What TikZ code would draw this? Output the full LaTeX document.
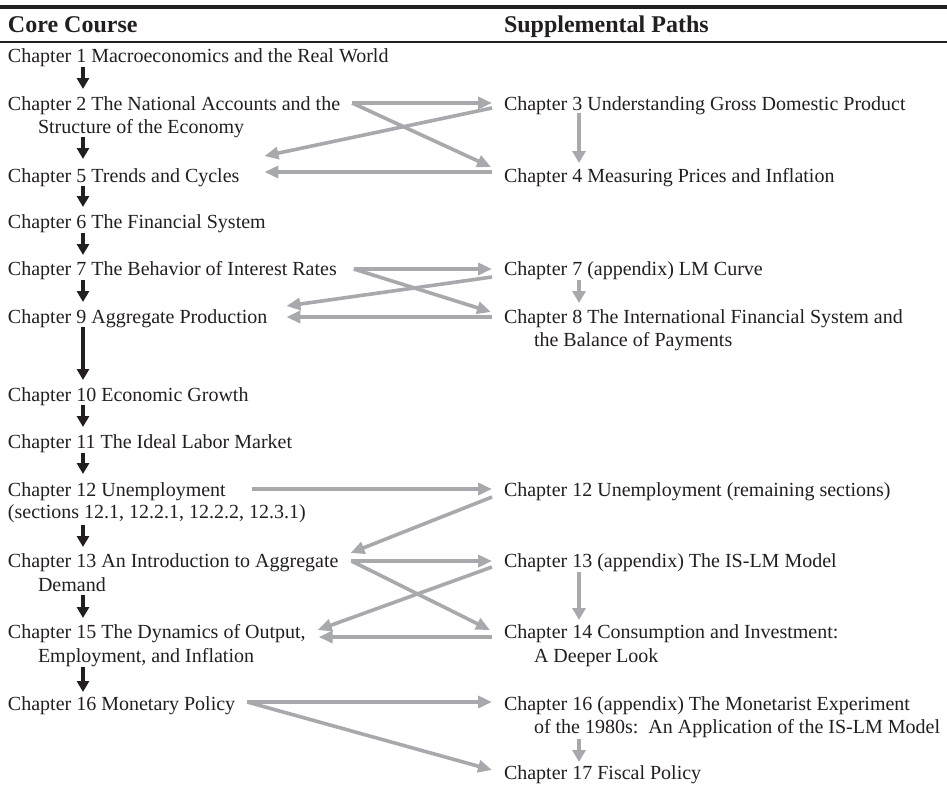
\documentclass[tikz,border=0pt]{standalone}
\usepackage{fontspec}
\setmainfont{Liberation Serif}
\usetikzlibrary{arrows.meta}
\definecolor{ink}{HTML}{231F20}
\definecolor{pathgray}{HTML}{A7A9AC}
\begin{document}
\begin{tikzpicture}[x=1pt,y=-1pt,
  chap/.style={anchor=base west,inner sep=0pt,outer sep=0pt,text=ink,font=\fontsize{20}{23}\selectfont},
  head/.style={anchor=base west,inner sep=0pt,outer sep=0pt,text=ink,font=\fontsize{24}{28}\selectfont\bfseries},
  core/.style={draw=ink,line width=4pt,-{Triangle[length=11pt,width=12pt]}},
  supp/.style={draw=pathgray,line width=3.6pt,-{Triangle[length=14pt,width=12pt]}},
  suppv/.style={draw=pathgray,line width=3.6pt,-{Triangle[length=12pt,width=13pt]}},
]
\useasboundingbox (0,0) rectangle (947,807);
\fill[white] (0,0) rectangle (947,807);
% rules
\draw[ink,line width=4pt] (0,7) -- (947,7);
\draw[ink,line width=1.5pt] (0,42) -- (947,42);
% headers
\node[head] (hcore) at (8,32) {Core Course};
\node[head] (hsupp) at (504,32) {Supplemental Paths};
% core course
\node[chap] (c1) at (8,62) {Chapter 1 Macroeconomics and the Real World};
\node[chap] (c2) at (8,110) {Chapter 2 The National Accounts and the};
\node[chap] (c2b) at (38,133) {Structure of the Economy};
\node[chap] (c5) at (8,182) {Chapter 5 Trends and Cycles};
\node[chap] (c6) at (8,228) {Chapter 6 The Financial System};
\node[chap] (c7) at (8,275) {Chapter 7 The Behavior of Interest Rates};
\node[chap] (c9) at (8,323) {Chapter 9 Aggregate Production};
\node[chap] (c10) at (8,401) {Chapter 10 Economic Growth};
\node[chap] (c11) at (8,448) {Chapter 11 The Ideal Labor Market};
\node[chap] (c12) at (8,496) {Chapter 12 Unemployment};
\node[chap] (c12b) at (8,518) {(sections 12.1, 12.2.1, 12.2.2, 12.3.1)};
\node[chap] (c13) at (8,567) {Chapter 13 An Introduction to Aggregate};
\node[chap] (c13b) at (38,591) {Demand};
\node[chap] (c15) at (8,638) {Chapter 15 The Dynamics of Output,};
\node[chap] (c15b) at (38,662) {Employment, and Inflation};
\node[chap] (c16) at (8,710) {Chapter 16 Monetary Policy};
% supplemental
\node[chap] (s3) at (504,110) {Chapter 3 Understanding Gross Domestic Product};
\node[chap] (s4) at (504,182) {Chapter 4 Measuring Prices and Inflation};
\node[chap] (s7) at (504,275) {Chapter 7 (appendix) LM Curve};
\node[chap] (s8) at (504,323) {Chapter 8 The International Financial System and};
\node[chap] (s8b) at (534,346) {the Balance of Payments};
\node[chap] (s12) at (504,496) {Chapter 12 Unemployment (remaining sections)};
\node[chap] (s13) at (504,567) {Chapter 13 (appendix) The IS-LM Model};
\node[chap] (s14) at (504,638) {Chapter 14 Consumption and Investment:};
\node[chap] (s14b) at (534,662) {A Deeper Look};
\node[chap] (s16) at (504,710) {Chapter 16 (appendix) The Monetarist Experiment};
\node[chap] (s16b) at (534,733) {of the 1980s:\ \ An Application of the IS-LM Model};
\node[chap] (s17) at (504,779) {Chapter 17 Fiscal Policy};
% core arrows
\draw[core] ([xshift=75pt,yshift=-5pt]c1.base west) -- ([xshift=75pt,yshift=21pt]c2.base west);
\draw[core] ([xshift=75pt,yshift=-27pt]c2.base west) -- ([xshift=75pt,yshift=23pt]c5.base west);
\draw[core] ([xshift=75pt,yshift=-4pt]c5.base west) -- ([xshift=75pt,yshift=21pt]c6.base west);
\draw[core] ([xshift=75pt,yshift=-5pt]c6.base west) -- ([xshift=75pt,yshift=20pt]c7.base west);
\draw[core] ([xshift=75pt,yshift=-5pt]c7.base west) -- ([xshift=75pt,yshift=21pt]c9.base west);
\draw[core] ([xshift=75pt,yshift=-4pt]c9.base west) -- ([xshift=75pt,yshift=21pt]c10.base west);
\draw[core] ([xshift=75pt,yshift=-4pt]c10.base west) -- ([xshift=75pt,yshift=21pt]c11.base west);
\draw[core] ([xshift=75pt,yshift=-5pt]c11.base west) -- ([xshift=75pt,yshift=22pt]c12.base west);
\draw[core] ([xshift=75pt,yshift=-29pt]c12.base west) -- ([xshift=75pt,yshift=20pt]c13.base west);
\draw[core] ([xshift=75pt,yshift=-28pt]c13.base west) -- ([xshift=75pt,yshift=20pt]c15.base west);
\draw[core] ([xshift=75pt,yshift=-29pt]c15.base west) -- ([xshift=75pt,yshift=18pt]c16.base west);
% supplemental arrows
\draw[supp] ([xshift=12pt,yshift=7pt]c2.base east) -- ([xshift=-12pt,yshift=7pt]s3.base west);
\draw[supp] ([xshift=12pt,yshift=7pt]c2.base east) -- ([xshift=-13pt,yshift=15pt]s4.base west);
\draw[supp] ([xshift=-12pt,yshift=2pt]s3.base west) -- ([xshift=25pt,yshift=26pt]c5.base east);
\draw[supp] ([xshift=-12pt,yshift=10pt]s4.base west) -- ([xshift=25pt,yshift=10pt]c5.base east);
\draw[suppv] ([xshift=75pt,yshift=-3pt]s3.base west) -- ([xshift=75pt,yshift=19pt]s4.base west);

\draw[supp] ([xshift=17pt,yshift=6pt]c7.base east) -- ([xshift=-12pt,yshift=6pt]s7.base west);
\draw[supp] ([xshift=17pt,yshift=6pt]c7.base east) -- ([xshift=-13pt,yshift=11pt]s8.base west);
\draw[supp] ([xshift=-12pt,yshift=-2pt]s7.base west) -- ([xshift=19pt,yshift=17pt]c9.base east);
\draw[supp] ([xshift=-12pt,yshift=6pt]s8.base west) -- ([xshift=19pt,yshift=6pt]c9.base east);
\draw[suppv] ([xshift=75pt,yshift=-5pt]s7.base west) -- ([xshift=75pt,yshift=20pt]s8.base west);

\draw[supp] ([xshift=26pt,yshift=7pt]c12.base east) -- ([xshift=-12pt,yshift=7pt]s12.base west);
\draw[supp] ([xshift=-12pt,yshift=-1pt]s12.base west) -- ([xshift=12pt,yshift=14pt]c13.base east);

\draw[supp] ([xshift=13pt,yshift=6pt]c13.base east) -- ([xshift=-12pt,yshift=6pt]s13.base west);
\draw[supp] ([xshift=13pt,yshift=6pt]c13.base east) -- ([xshift=-14pt,yshift=8pt]s14.base west);
\draw[supp] ([xshift=-12pt,yshift=0pt]s13.base west) -- ([xshift=12pt,yshift=8pt]c15.base east);
\draw[supp] ([xshift=-12pt,yshift=1pt]s14.base west) -- ([xshift=13pt,yshift=1pt]c15.base east);
\draw[suppv] ([xshift=75pt,yshift=-5pt]s13.base west) -- ([xshift=75pt,yshift=18pt]s14.base west);

\draw[supp] ([xshift=12pt,yshift=8pt]c16.base east) -- ([xshift=-12pt,yshift=8pt]s16.base west);
\draw[supp] ([xshift=12pt,yshift=8pt]c16.base east) -- ([xshift=-12pt,yshift=9pt]s17.base west);
\draw[suppv] ([xshift=75pt,yshift=-29pt]s16.base west) -- ([xshift=75pt,yshift=17pt]s17.base west);
\end{tikzpicture}
\end{document}
